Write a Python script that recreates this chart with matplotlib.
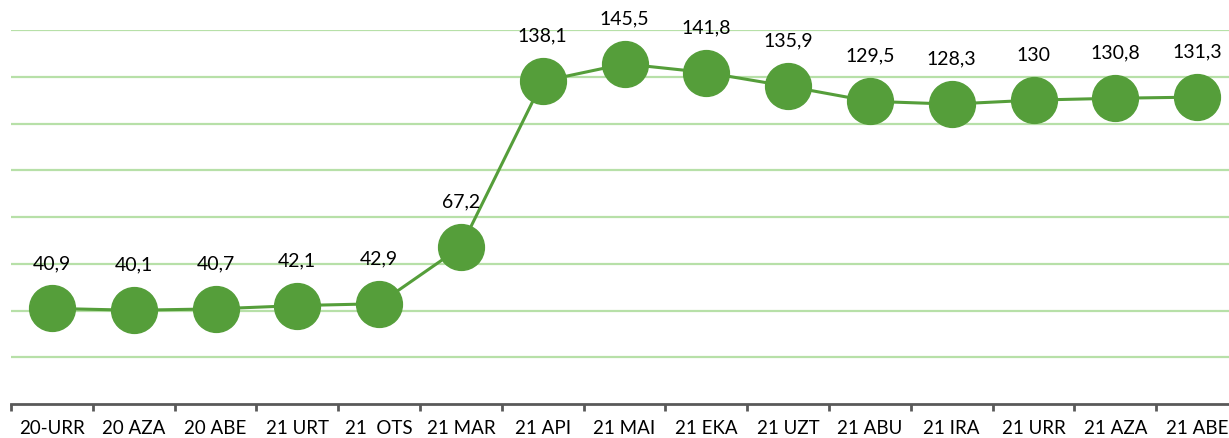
import numpy as np
import matplotlib.pyplot as plt

months = ["20-URR", "20 AZA", "20 ABE", "21 URT", "21  OTS", "21 MAR", "21 API",
          "21 MAI", "21 EKA", "21 UZT", "21 ABU", "21 IRA", "21 URR", "21 AZA", "21 ABE"]
values = [40.9, 40.1, 40.7, 42.1, 42.9, 67.2, 138.1, 145.5, 141.8, 135.9,
          129.5, 128.3, 130.0, 130.8, 131.3]
labels = ["40,9", "40,1", "40,7", "42,1", "42,9", "67,2", "138,1", "145,5", "141,8",
          "135,9", "129,5", "128,3", "130", "130,8", "131,3"]

GREEN = "#559E3A"
GRID = "#B7E0A8"

plt.rcParams["font.family"] = ["Lato", "DejaVu Sans"]

W, H = 1229, 439
fig = plt.figure(figsize=(W / 100, H / 100), dpi=100)
# axes from x=11px to past the right edge, y from 405px (0) to 31px (160)
ax = fig.add_axes([11 / W, (H - 405) / H, 1227 / W, (405 - 31) / H])

x = np.arange(len(values))
ax.plot(x, values, color=GREEN, lw=2.2, marker="o", ms=33,
        markerfacecolor=GREEN, markeredgecolor=GREEN, zorder=3, clip_on=False)

for xi, v, lab in zip(x, values, labels):
    ax.annotate(lab, (xi, v), xytext=(0, 46), textcoords="offset pixels",
                ha="center", va="center", fontsize=14, color="black")

ax.set_xlim(-0.5, len(values) - 0.5)
ax.set_ylim(0, 160)
ax.set_yticks(np.arange(20, 161, 20))
ax.yaxis.grid(True, color=GRID, lw=1.6)
ax.set_axisbelow(True)
ax.tick_params(axis="y", length=0, labelleft=False)

ax.set_xticks(np.arange(-0.5, len(values), 1))
ax.set_xticklabels([])
ax.set_xticks(x, minor=True)
ax.set_xticklabels(months, minor=True, fontsize=13.5)
ax.tick_params(axis="x", which="major", length=5, width=2, color="#595959", direction="out")
ax.tick_params(axis="x", which="minor", length=0, pad=11)

for s in ["top", "right", "left"]:
    ax.spines[s].set_visible(False)
ax.spines["bottom"].set_color("#595959")
ax.spines["bottom"].set_linewidth(2)

fig.savefig("out.png", dpi=100)
